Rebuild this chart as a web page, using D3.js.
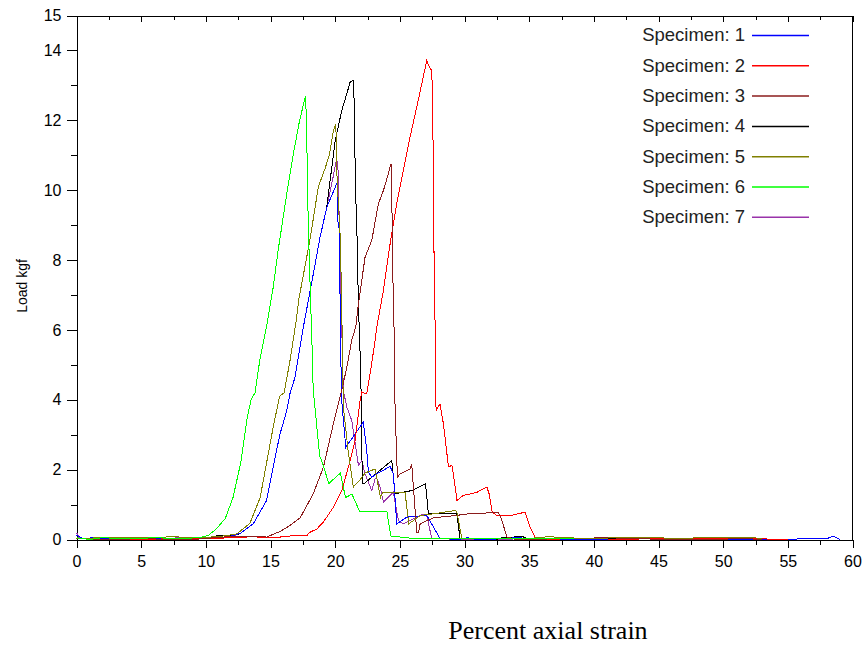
<!DOCTYPE html>
<html>
<head>
<meta charset="utf-8">
<script src="https://cdn.jsdelivr.net/npm/d3@7"></script>
<style>
  body { margin: 0; background: #fff; }
  svg { display: block; font-family: "Liberation Sans", Arial, sans-serif; }
  .axis path, .axis line { stroke: #000; shape-rendering: crispEdges; }
  .axis text { fill: #000; font-size: 16px; }
  .curve { fill: none; stroke-width: 1; shape-rendering: crispEdges; }
</style>
</head>
<body>
<div id="chart"></div>
<script>
// specimen names + colours
var names = ['Specimen: 1', 'Specimen: 2', 'Specimen: 3', 'Specimen: 4',
             'Specimen: 5', 'Specimen: 6', 'Specimen: 7'];
var colors = ['#0000ff', '#ff0000', '#8b1c1c', '#000000', '#808000', '#00ff00', '#9933aa'];

// tick values
var xMajor = [0, 5, 10, 15, 20, 25, 30, 35, 40, 45, 50, 55, 60];
var xMinor = [2.5, 7.5, 12.5, 17.5, 22.5, 27.5, 32.5, 37.5, 42.5, 47.5, 52.5, 57.5];
var yMajor = [0, 2, 4, 6, 8, 10, 12, 14, 15];
var yMinor = [1, 3, 5, 7, 9, 11, 13];

// [strain %, load kgf]
var spec1 = [[0,0.12],[0.5,0.02],[1.2,0.05],[2,0.02],[4,0.02],[6,0.03],[8,0.02],[10,0.04],[11.5,0.06],
  [12.65,0.17],[13.67,0.45],[14.7,1.12],[15.2,2.07],[15.74,3.03],[16.26,3.69],[16.5,4.17],[16.9,4.65],
  [17.23,5.41],[17.54,6.08],[18.31,7.6],[18.83,8.65],[19.35,9.51],[20.17,10.23],[20.2,9.13],[20.33,8.85],
  [20.4,6.0],[20.5,4.0],[20.82,2.64],[22.18,3.36],[22.44,2.55],[22.57,1.93],[22.83,1.78],[23.22,1.88],
  [24.25,2.09],[24.5,1.88],[24.76,0.45],[25.54,0.64],[27.08,0.69],[28.1,0.03],[29.5,0],[30.2,0.05],[31,0],
  [33,0.02],[34.2,0.06],[35,0],[38,0],[46.5,0.03],[50,0],[58,0.02],[58.5,0.1],[59,0]];
var spec2 = [[0,0.02],[3,0],[8,0.02],[12.5,0.05],[13.5,0.08],[14.5,0.06],[15.74,0.07],[16.77,0.11],
  [17.8,0.11],[18.06,0.21],[18.58,0.3],[19.09,0.5],[19.86,0.92],[20.51,1.4],[21.02,2.07],[21.54,2.83],
  [21.93,3.98],[22.06,4.22],[22.44,4.17],[22.7,4.74],[23.09,5.7],[23.22,6.08],[23.73,7.13],[24.25,8.47],
  [24.76,9.61],[25.27,10.56],[25.79,11.52],[26.31,12.38],[26.7,13.05],[27.08,13.71],[27.34,13.48],
  [27.47,13.43],[27.55,12.19],[27.6,9.7],[27.67,7.32],[27.73,6.08],[27.8,3.69],[28.1,3.88],[28.37,3.31],
  [28.76,2.08],[29.02,2.12],[29.14,1.88],[29.42,1.12],[29.9,1.26],[30.95,1.35],[31.73,1.5],[31.9,1.31],
  [32.15,0.78],[32.5,0.69],[33.6,0.69],[34.3,0.75],[34.69,0.78],[34.82,0.64],[35.07,0.35],[35.46,0.07],
  [36,0],[39,0.03],[43,0],[44,0.03],[47,0.02],[50.5,0.04],[55,0]];
var spec3 = [[0,0.03],[2,0],[5,0.02],[9,0],[11,0.06],[12.5,0.1],[13.5,0.1],[14.3,0.08],[14.7,0.07],
  [15.74,0.23],[16.5,0.4],[17.29,0.62],[18.31,1.31],[19.09,2.07],[19.86,3.31],[20.51,4.27],[20.9,4.93],
  [21.28,5.7],[21.6,6.1],[21.8,6.75],[22.31,8.08],[22.83,8.56],[23.34,9.61],[23.73,9.99],[24.11,10.47],
  [24.32,10.76],[24.38,9.8],[24.45,7.7],[24.55,6.08],[24.63,3.79],[24.81,1.78],[25.02,1.88],[25.79,2.02],
  [25.92,2.17],[26.05,1.5],[26.31,0.21],[26.45,0.21],[26.57,0.45],[27.6,0.62],[29.4,0.69],[30.18,0.73],
  [31.2,0.73],[32.0,0.78],[32.62,0.78],[32.9,0.54],[33.27,0.07],[34,0],[39,0.03],[41.5,0.06],[42,0.02],
  [50,0],[51,0.04],[53,0]];
var spec4 = [[0,0.05],[1,0],[4,0.05],[6,0],[8,0.02],[10,0.03],[11,0.12],[12,0.1],[12.65,0.17],
  [13.67,0.45],[14.7,1.12],[15.2,2.07],[15.74,3.03],[16.26,3.69],[16.5,4.17],[16.9,4.65],[17.23,5.41],
  [17.54,6.08],[18.31,7.6],[18.83,8.65],[19.35,9.51],[20.0,11.42],[20.51,12.28],[20.9,12.76],[21.15,13.09],
  [21.41,13.14],[21.5,12.19],[21.55,10.37],[21.7,8.56],[21.8,6.65],[21.9,5.7],[22.0,4.27],[22.1,1.6],
  [22.2,1.59],[24.38,2.26],[24.63,1.31],[25.92,1.4],[26.99,1.59],[27.21,0.73],[29.4,0.73],[29.66,0.03],
  [32.5,0],[33,0.06],[34.5,0.08],[35,0],[42,0.04],[48,0.02],[49.5,0.06],[50,0]];
var spec5 = [[0,0.03],[2,0.05],[5.5,0.05],[7.5,0.08],[9,0.05],[11,0.08],[12.4,0.16],[13.4,0.46],
  [14.2,1.2],[14.7,2.2],[15.2,3.2],[15.7,4.1],[16.05,4.2],[16.5,5.1],[17.0,6.3],[17.2,6.9],[18.06,8.6],
  [18.7,10.1],[19.2,10.6],[19.55,11.0],[19.86,11.7],[20.05,11.9],[20.15,10.3],[20.4,8.6],[20.5,6.8],
  [20.55,5.7],[20.63,3.8],[21.0,2.55],[21.4,1.5],[21.9,1.7],[22.3,1.9],[22.95,2.0],[23.1,2.0],[23.5,1.2],
  [23.7,1.35],[25.4,1.35],[25.7,0.45],[26.6,0.69],[27.3,0.72],[29.3,0.83],[29.4,0.8],[29.8,0.03],[35,0.03],
  [36.5,0.08],[38,0.05],[40,0.02],[42,0.06],[45,0.06],[46,0.02],[49,0.06],[52,0.06],[53,0.03]];
var spec6 = [[0,0.05],[1,0],[2,0.05],[4,0.02],[6,0.05],[8,0.03],[9.5,0.05],[10.2,0.12],[10.8,0.3],
  [11.5,0.6],[12.1,1.2],[12.7,2.2],[13.2,3.5],[13.5,4.0],[13.8,4.2],[14.2,5.2],[14.7,6.1],[15.2,7.2],
  [15.6,8.3],[16.3,10.0],[16.8,11.1],[17.2,11.9],[17.7,12.7],[17.8,11.9],[17.85,10.1],[18.0,8.0],
  [18.2,5.7],[18.3,4.3],[18.8,2.4],[19.1,2.1],[19.5,1.6],[20.4,1.9],[20.8,1.2],[21.3,1.3],[21.9,0.8],
  [24.0,0.8],[24.3,0.1],[26,0.03],[30,0.02],[35,0.03],[38.5,0.02]];
var spec7 = [[0,0.2],[0.2,0.05],[1,0.02],[3,0],[6,0.03],[8.5,0.05],[10,0.05],[12,0.08],[12.65,0.17],
  [13.67,0.45],[14.7,1.12],[15.2,2.07],[15.74,3.03],[16.26,3.69],[16.5,4.17],[16.9,4.65],[17.23,5.41],
  [17.54,6.08],[18.31,7.6],[18.83,8.65],[19.35,9.51],[19.8,10.3],[20.12,10.9],[20.25,10.47],[20.38,7.6],
  [20.51,6.08],[20.63,4.27],[20.9,3.79],[21.28,3.41],[21.8,2.12],[22.06,2.26],[22.31,1.88],[22.83,1.4],
  [23.09,1.74],[23.22,1.76],[23.47,1.5],[23.73,1.07],[24.5,1.35],[24.89,0.54],[25.27,0.45],[26.82,0.73],
  [27.08,0.69],[27.47,0.03],[30,0],[40.5,0.04],[42.5,0.05],[43,0]];

var specimens = [spec1, spec2, spec3, spec4, spec5, spec6, spec7];
// paint order: purple and black under blue, as in the picture
var drawOrder = [6, 3, 0, 1, 2, 4, 5];

var width = 862, height = 645;
var svg = d3.select('#chart').append('svg')
    .attr('width', width)
    .attr('height', height);

var xScale = d3.scaleLinear().domain([0, 60]).range([76.5, 852.5]);
var yScale = d3.scaleLinear().domain([0, 15]).range([539.5, 15.5]);

// bottom axis: minor then major with labels
svg.append('g').attr('class', 'axis')
    .attr('transform', 'translate(0,539.5)')
    .call(d3.axisBottom(xScale).tickValues(xMinor).tickSize(5).tickSizeOuter(0).tickFormat(''));
svg.append('g').attr('class', 'axis')
    .attr('transform', 'translate(0,539.5)')
    .call(d3.axisBottom(xScale).tickValues(xMajor).tickSize(8).tickPadding(8).tickSizeOuter(0));

// top border, ticks pointing in
svg.append('g').attr('class', 'axis')
    .attr('transform', 'translate(0,15.5)')
    .call(d3.axisBottom(xScale).tickValues(xMinor).tickSize(4).tickSizeOuter(0).tickFormat(''));
svg.append('g').attr('class', 'axis')
    .attr('transform', 'translate(0,15.5)')
    .call(d3.axisBottom(xScale).tickValues(xMajor).tickSize(6).tickSizeOuter(0).tickFormat(''));

// left axis
svg.append('g').attr('class', 'axis')
    .attr('transform', 'translate(76.5,0)')
    .call(d3.axisLeft(yScale).tickValues(yMinor).tickSize(6).tickSizeOuter(0).tickFormat(''));
svg.append('g').attr('class', 'axis')
    .attr('transform', 'translate(76.5,0)')
    .call(d3.axisLeft(yScale).tickValues(yMajor).tickSize(10).tickPadding(5).tickSizeOuter(0));

// right border, plain line
svg.append('line')
    .attr('x1', 852.5).attr('x2', 852.5)
    .attr('y1', yScale(15)).attr('y2', yScale(0))
    .attr('stroke', '#000')
    .style('shape-rendering', 'crispEdges');

// curves
var line = d3.line()
    .x(d => xScale(d[0]))
    .y(d => yScale(d[1]));

svg.append('g').selectAll('path')
    .data(drawOrder).enter().append('path')
    .attr('class', 'curve')
    .attr('d', i => line(specimens[i]))
    .attr('stroke', i => colors[i]);

// legend
var legend = svg.append('g').selectAll('g')
    .data(names).enter().append('g')
    .attr('transform', (d, i) => `translate(0,${35 + i * 30.3})`);
legend.append('text')
    .attr('x', 745)
    .attr('dy', '0.35em')
    .attr('text-anchor', 'end')
    .style('font-size', '18.5px')
    .style('fill', '#222')
    .text(d => d);
legend.append('line')
    .attr('x1', 752).attr('x2', 809)
    .attr('y1', 0.5).attr('y2', 0.5)
    .attr('stroke', (d, i) => colors[i])
    .attr('stroke-width', 1.5);

// axis titles
svg.append('text')
    .attr('transform', 'translate(27,286) rotate(-90)')
    .attr('text-anchor', 'middle')
    .style('font-size', '14px')
    .text('Load kgf');
svg.append('text')
    .attr('x', 548).attr('y', 639)
    .attr('text-anchor', 'middle')
    .style('font-family', '"Liberation Serif", "Times New Roman", serif')
    .style('font-size', '26px')
    .text('Percent axial strain');
</script>
</body>
</html>
